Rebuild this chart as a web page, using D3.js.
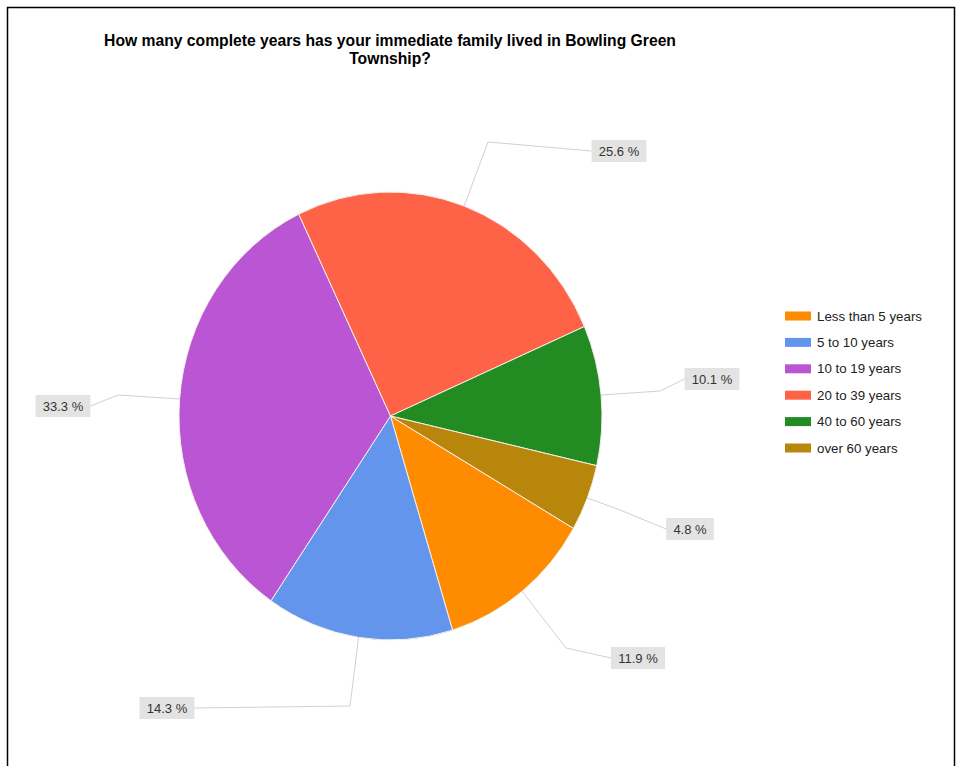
<!DOCTYPE html>
<html>
<head>
<meta charset="utf-8">
<script src="https://cdn.jsdelivr.net/npm/d3@7"></script>
<style>
  html, body { margin: 0; padding: 0; background: #fff; }
  svg { display: block; font-family: "Liberation Sans", Arial, sans-serif; }
</style>
</head>
<body>
<svg id="chart" width="957" height="766"></svg>
<script>
// Survey answers and their shares (%)
const categories = ["Less than 5 years", "5 to 10 years", "10 to 19 years", "20 to 39 years", "40 to 60 years", "over 60 years"];
const shares = [11.9, 14.3, 33.3, 25.6, 10.1, 4.8];
const colors = ["#ff8c00", "#6495ed", "#ba55d3", "#ff6347", "#228b22", "#b8860b"];
const titleLines = ["How many complete years has your immediate family lived in Bowling Green", "Township?"];

// Label placement: box centres and leader-line elbows
const labelCenters = [[638, 658], [167, 708], [63, 406], [619, 151], [712, 379], [690, 529]];
const labelElbows = [[566, 648], [350, 706], [118, 395], [488, 142], [660, 391], [620, 510]];

const svg = d3.select("#chart");

// frame
svg.append("rect")
  .attr("x", 7.5).attr("y", 7.5).attr("width", 947).attr("height", 800)
  .attr("fill", "none").attr("stroke", "#000").attr("stroke-width", 1.5);

// title
svg.append("g").selectAll("text").data(titleLines).join("text")
  .attr("x", 390).attr("y", (d, i) => 46 + i * 18)
  .attr("text-anchor", "middle")
  .attr("font-size", 15.7).attr("font-weight", "bold").attr("fill", "#000")
  .text(d => d);

// pie geometry (slightly taller than wide)
const cx = 390.5, cy = 416, rx = 211.5, ry = 224;
const startAngle = 120.1 * Math.PI / 180;

const pie = d3.pie().sort(null).value(d => d.v)
  .startAngle(startAngle).endAngle(startAngle + 2 * Math.PI);
const data = categories.map((c, i) => ({ c, v: shares[i], color: colors[i], i }));
const arcs = pie(data);
const arc = d3.arc().innerRadius(0).outerRadius(rx);

const pieG = svg.append("g")
  .attr("transform", `translate(${cx},${cy}) scale(1,${ry / rx})`);
pieG.selectAll("path").data(arcs).join("path")
  .attr("d", arc)
  .attr("fill", d => d.data.color)
  .attr("stroke", "#f4f0ea").attr("stroke-width", 1)
  .attr("vector-effect", "non-scaling-stroke");

// leader lines and value labels
const edgePoint = a => [cx + rx * Math.sin(a), cy - ry * Math.cos(a)];
const lineG = svg.append("g");
const labG = svg.append("g");
const fmt = v => v.toFixed(1) + " %";

arcs.forEach((d, i) => {
  const mid = (d.startAngle + d.endAngle) / 2;
  const p0 = edgePoint(mid);
  const [ex, ey] = labelElbows[i];
  const [lx, ly] = labelCenters[i];

  const t = labG.append("text")
    .attr("x", lx).attr("y", ly + 4.5)
    .attr("text-anchor", "middle")
    .attr("font-size", 13).attr("fill", "#333")
    .text(fmt(d.data.v));
  const bb = t.node().getBBox();
  const bw = bb.width + 14, bh = 22;
  labG.insert("rect", "text")
    .attr("x", lx - bw / 2).attr("y", ly - bh / 2)
    .attr("width", bw).attr("height", bh)
    .attr("fill", "#e3e3e3");

  const endX = lx < cx ? lx + bw / 2 : lx - bw / 2;
  lineG.append("path")
    .attr("d", d3.line()([p0, [ex, ey], [endX, ly]]))
    .attr("fill", "none").attr("stroke", "#d0d0d0").attr("stroke-width", 1);
});

// legend
const legG = svg.append("g").attr("transform", "translate(785,316)");
const rows = legG.selectAll("g").data(data).join("g")
  .attr("transform", (d, i) => `translate(0,${i * 26.4})`);
rows.append("rect")
  .attr("x", 0).attr("y", -4.5).attr("width", 26).attr("height", 9)
  .attr("fill", d => d.color);
rows.append("text")
  .attr("x", 32).attr("y", 4.5)
  .attr("font-size", 13.3).attr("fill", "#222")
  .text(d => d.c);
</script>
</body>
</html>
